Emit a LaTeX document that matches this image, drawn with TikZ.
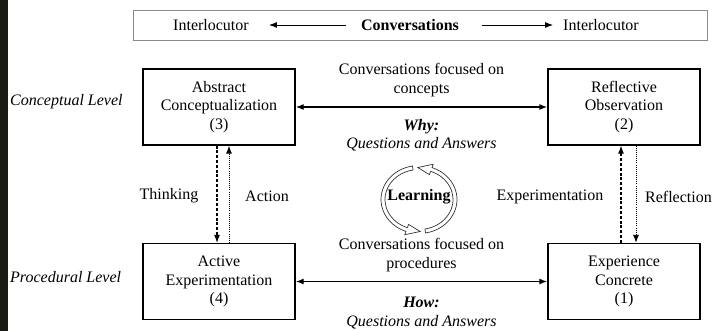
\documentclass[tikz,border=0pt]{standalone}
\usepackage{fontspec}
\setmainfont{Liberation Serif}
\usetikzlibrary{arrows.meta,calc}
\definecolor{strip}{HTML}{1B1B13}
\definecolor{barline}{HTML}{8A8A8A}
\begin{document}
\begin{tikzpicture}[x=1pt,y=1pt,
  every node/.style={font=\fontsize{16}{18.5}\selectfont},
  box/.style={draw, line width=1.3pt, minimum width=152pt, minimum height=76pt, align=center, inner sep=0pt},
  txt/.style={inner sep=0pt, align=center},
  lvl/.style={inner sep=0pt, font=\fontsize{16}{18.5}\selectfont\itshape},
  tipr/.style={-{Latex[length=8pt,width=6pt]}},
  tipb/.style={{Latex[length=8pt,width=6pt]}-{Latex[length=8pt,width=6pt]}},
  dashln/.style={line width=1.1pt, dash pattern=on 3pt off 1.8pt},
  dotln/.style={line width=0.9pt, dash pattern=on 0.9pt off 1.2pt},
  cyc/.style={line width=0.7pt, draw=black!80}
]
\useasboundingbox (0,0) rectangle (713,-331);
\fill[strip] (0,0) rectangle (8,-331);

% top bar
\node[draw=barline, line width=0.9pt, minimum width=574pt, minimum height=30pt, inner sep=0pt] (bar) at (420,-25) {};
\node[txt] (il) at (211,-25) {Interlocutor};
\node[txt, font=\fontsize{16}{18.5}\selectfont\bfseries] (cv) at (410,-25) {Conversations};
\node[txt] (ir) at (601,-25) {Interlocutor};
\draw[tipr, line width=0.9pt, shorten <=15pt, shorten >=20pt] (cv) -- (il);
\draw[tipr, line width=0.9pt, shorten <=23pt, shorten >=10pt] (cv) -- (ir);

% boxes
\node[box] (ac) at (219,-107) {Abstract\\Conceptualization\\(3)};
\node[box] (ro) at (624,-107) {Reflective\\Observation\\(2)};
\node[box] (ae) at (219,-281.5) {Active\\Experimentation\\(4)};
\node[box] (ec) at (624,-281.5) {Experience\\Concrete\\(1)};

% level labels
\node[lvl, anchor=west] (cl) at (10,-102) {Conceptual Level};
\node[lvl, anchor=west] (pl) at (10,-277) {Procedural Level};

% horizontal connectors
\draw[tipb, line width=1.3pt] (ac) -- (ro);
\draw[tipb, line width=1.3pt] (ae) -- (ec);

\node[txt] (cc) at (421.5,-80) {Conversations focused on\\concepts};
\node[txt] (why) at (421.5,-135) {\textbf{\textit{Why:}}\\\textit{Questions and Answers}};
\node[txt] (cp) at (421.5,-255) {Conversations focused on\\procedures};
\node[txt] (how) at (421.5,-313) {\textbf{\textit{How:}}\\\textit{Questions and Answers}};

% vertical connectors left
\draw[tipr, dashln] ([xshift=-2pt]ac.south) -- ([xshift=-2pt]ae.north);
\draw[tipr, dotln] ([xshift=10pt]ae.north) -- ([xshift=10pt]ac.south);
\node[txt] (th) at (169,-196) {Thinking};
\node[txt] (act) at (267,-196) {Action};

% vertical connectors right
\draw[tipr, dashln] ([xshift=-3pt]ec.north) -- ([xshift=-3pt]ro.south);
\draw[tipr, dotln] ([xshift=12pt]ro.south) -- ([xshift=12pt]ec.north);
\node[txt] (ex) at (550,-197) {Experimentation};
\node[txt, anchor=east] (rf) at (712,-197) {Reflection};

% learning cycle
\node[txt, font=\fontsize{16}{18.5}\selectfont\bfseries] (lrn) at (419,-197) {Learning};
\begin{scope}[shift={(419,-199.5)}]
\draw[cyc] (100:38 and 34) arc[start angle=100, end angle=250, x radius=38, y radius=34]
  -- (250:41.5 and 37.5) -- (272:36 and 32) -- (250:30.5 and 26.5) -- (250:34 and 30)
  arc[start angle=250, end angle=100, x radius=34, y radius=30] -- cycle;
\draw[cyc] (280:38 and 34) arc[start angle=280, end angle=430, x radius=38, y radius=34]
  -- (430:41.5 and 37.5) -- (452:36 and 32) -- (430:30.5 and 26.5) -- (430:34 and 30)
  arc[start angle=430, end angle=280, x radius=34, y radius=30] -- cycle;
\end{scope}
\end{tikzpicture}
\end{document}
